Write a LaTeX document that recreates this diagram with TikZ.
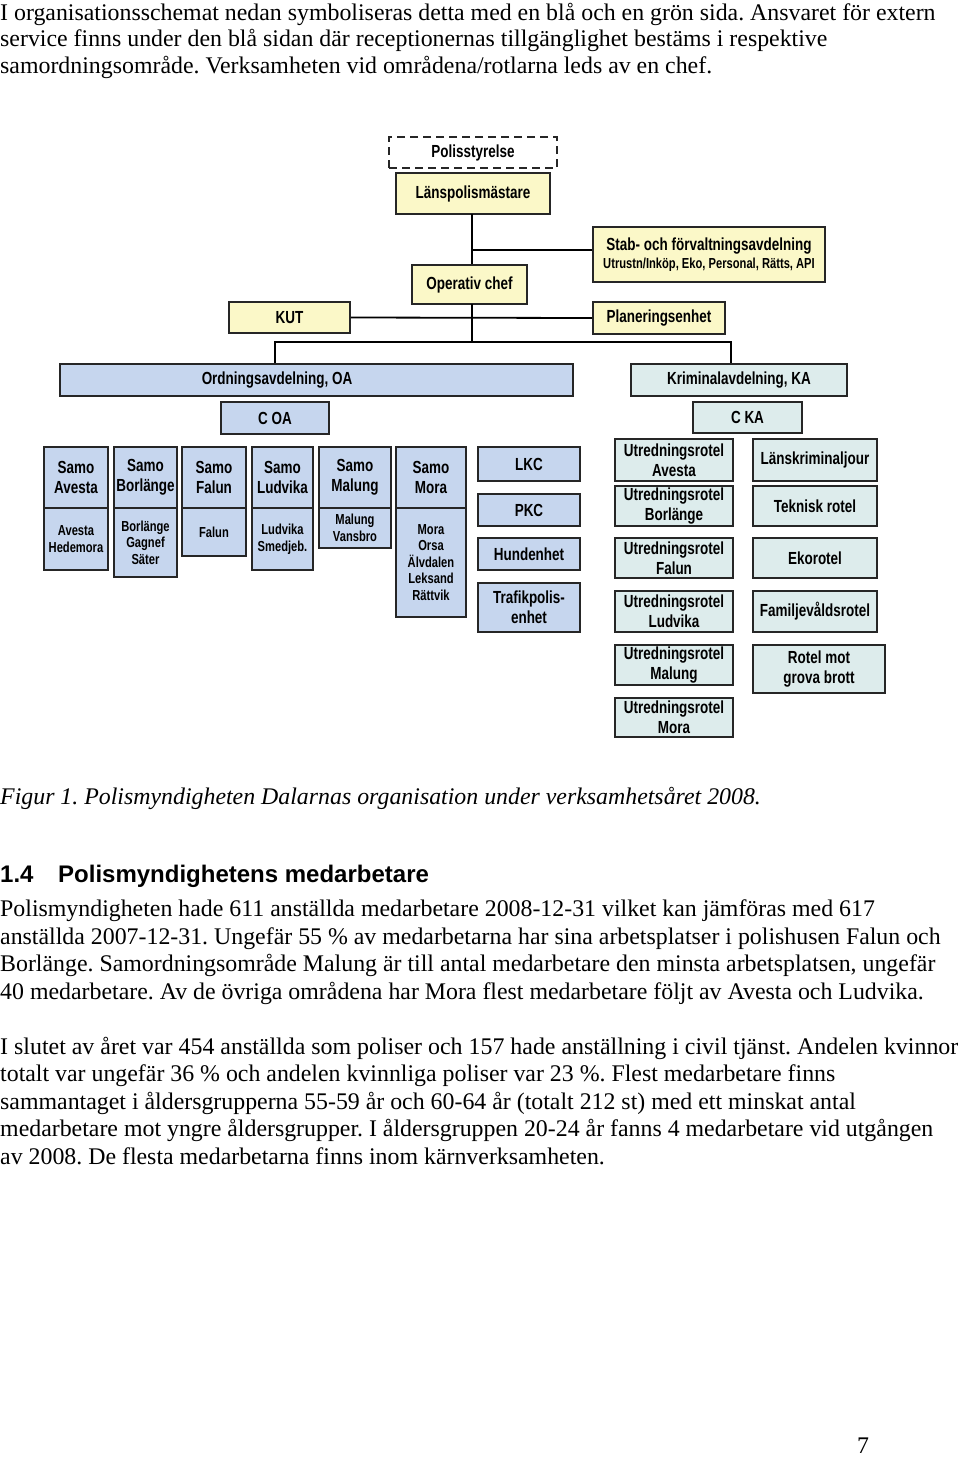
\documentclass[tikz,border=0pt]{standalone}
\usepackage{fontspec}
\setmainfont{Liberation Serif}
\newfontfamily\arialfont{Liberation Sans}
\newfontfamily\narrowfont[FakeStretch=0.77]{Liberation Sans}
\definecolor{yel}{HTML}{FBF8C8}
\definecolor{blu}{HTML}{C6D6EE}
\definecolor{grn}{HTML}{DDECEC}
\newcommand\orgbx[7]{\node[#6, minimum width={(#4-#2)*1pt}, minimum height={(#5-#3)*1pt}] (#1) at ({(#2+#4)/2},{(#3+#5)/2}) {#7};}
\tikzset{
  orgbox/.style={draw=black!85, line width=1.8pt, inner sep=0pt, align=center,
    font=\narrowfont\bfseries\fontsize{17.5}{20}\selectfont},
  ybox/.style={orgbox, fill=yel},
  bbox/.style={orgbox, fill=blu},
  gbox/.style={orgbox, fill=grn},
  smallbox/.style={font=\narrowfont\bfseries\fontsize{14.5}{16.5}\selectfont},
  dashbox/.style={draw=black!85, line width=2.2pt, dash pattern=on 8pt off 5pt, inner sep=0pt,
    font=\narrowfont\bfseries\fontsize{17.5}{20}\selectfont},
  conn/.style={draw=black, line width=1.8pt},
  bodytext/.style={anchor=base west, inner sep=0pt, font=\frenchspacing\fontsize{23.85}{27.5}\selectfont},
  headtext/.style={anchor=base west, inner sep=0pt, font=\arialfont\bfseries\fontsize{24}{27.5}\selectfont},
  lbl/.style={inner sep=0pt, font=\narrowfont\bfseries\fontsize{17.5}{20}\selectfont}
}
\begin{document}
\begin{tikzpicture}[x=1pt,y=-1pt]
\useasboundingbox (0,0) rectangle (960,1457);
\fill[white] (0,0) rectangle (960,1457);

% top paragraph
\node[bodytext] (t1) at (0,20) {I organisationsschemat nedan symboliseras detta med en blå och en grön sida. Ansvaret för extern};
\node[bodytext] (t2) at (0,46) {service finns under den blå sidan där receptionernas tillgänglighet bestäms i respektive};
\node[bodytext] (t3) at (0,73) {samordningsområde. Verksamheten vid områdena/rotlarna leds av en chef.};

% org chart top
\orgbx{pol}{389}{137}{557}{168}{dashbox}{Polisstyrelse}
\orgbx{lpm}{396}{173}{550}{214}{ybox}{Länspolismästare}
\orgbx{stab}{593}{227}{825}{282}{ybox}{Stab- och förvaltningsavdelning\\[-2pt]{\fontsize{14.5}{15}\selectfont Utrustn/Inköp, Eko, Personal, Rätts, API}}
\orgbx{opc}{412}{265}{527}{304}{ybox}{Operativ chef}
\orgbx{kut}{229}{302}{350}{333}{ybox}{KUT}
\orgbx{plan}{593}{302}{725}{334}{ybox}{Planeringsenhet}

\orgbx{oa}{60}{364}{573}{396}{bbox}{}
\node[lbl] (oatext) at (277,380) {Ordningsavdelning, OA};
\orgbx{coa}{221}{402}{329}{434}{bbox}{C OA}
\orgbx{ka}{631}{364}{847}{396}{gbox}{Kriminalavdelning, KA}
\orgbx{cka}{693}{402}{802}{433}{gbox}{C KA}

% connectors
\coordinate (jtop) at (472,214);
\coordinate (jstab) at (472,250);
\coordinate (jop) at (472,304);
\coordinate (joa) at (275,342);
\coordinate (jka) at (731,342);
\draw[conn] (jtop) -- (jtop |- opc.north);
\draw[conn] (jstab) -- (jstab -| stab.west);
\draw[conn] (kut.east) -- (plan.west);
\draw[conn] (jop) -- (jop |- joa);
\draw[conn] (oa.north -| joa) -- (joa) -- (jka) -- (ka.north -| jka);

% Samo boxes
\orgbx{s1t}{44}{447}{108}{508}{bbox}{Samo\\Avesta}
\orgbx{s1b}{44}{508}{108}{570}{bbox,smallbox}{Avesta\\Hedemora}
\orgbx{s2t}{114}{447}{177}{508}{bbox}{Samo\\Borlänge}
\orgbx{s2b}{114}{508}{177}{577}{bbox,smallbox}{Borlänge\\Gagnef\\Säter}
\orgbx{s3t}{182}{447}{246}{508}{bbox}{Samo\\Falun}
\orgbx{s3b}{182}{508}{246}{556}{bbox,smallbox}{Falun}
\orgbx{s4t}{252}{447}{313}{508}{bbox}{Samo\\Ludvika}
\orgbx{s4b}{252}{508}{313}{570}{bbox,smallbox}{Ludvika\\Smedjeb.}
\orgbx{s5t}{319}{447}{391}{508}{bbox}{Samo\\Malung}
\orgbx{s5b}{319}{508}{391}{548}{bbox,smallbox}{Malung\\Vansbro}
\orgbx{s6t}{396}{447}{466}{508}{bbox}{Samo\\Mora}
\orgbx{s6b}{396}{508}{466}{617}{bbox,smallbox}{Mora\\Orsa\\Älvdalen\\Leksand\\Rättvik}

% blue column
\orgbx{lkc}{478}{447}{580}{481}{bbox}{LKC}
\orgbx{pkc}{478}{494}{580}{526}{bbox}{PKC}
\orgbx{hund}{478}{538}{580}{570}{bbox}{Hundenhet}
\orgbx{traf}{478}{583}{580}{632}{bbox}{Trafikpolis-\\enhet}

% utredningsrotlar
\orgbx{u1}{615}{439}{733}{481}{gbox}{Utredningsrotel\\Avesta}
\orgbx{u2}{615}{486}{733}{526}{gbox}{Utredningsrotel\\Borlänge}
\orgbx{u3}{615}{538}{733}{578}{gbox}{Utredningsrotel\\Falun}
\orgbx{u4}{615}{591}{733}{632}{gbox}{Utredningsrotel\\Ludvika}
\orgbx{u5}{615}{645}{733}{685}{gbox}{Utredningsrotel\\Malung}
\orgbx{u6}{615}{698}{733}{737}{gbox}{Utredningsrotel\\Mora}

% right column
\orgbx{r1}{753}{439}{877}{481}{gbox}{Länskriminaljour}
\orgbx{r2}{753}{486}{877}{526}{gbox}{Teknisk rotel}
\orgbx{r3}{753}{538}{877}{578}{gbox}{Ekorotel}
\orgbx{r4}{753}{591}{877}{632}{gbox}{Familjevåldsrotel}
\orgbx{r5}{753}{645}{885}{693}{gbox}{Rotel mot\\grova brott}

% caption and text
\node[bodytext, font=\frenchspacing\itshape\fontsize{23.85}{27.5}\selectfont] (cap) at (0,804) {Figur 1. Polismyndigheten Dalarnas organisation under verksamhetsåret 2008.};
\node[headtext] (hnum) at (0,882) {1.4};
\node[headtext] (htxt) at (58,882) {Polismyndighetens medarbetare};

\node[bodytext] (p1) at (0,916) {Polismyndigheten hade 611 anställda medarbetare 2008-12-31 vilket kan jämföras med 617};
\node[bodytext] (p2) at (0,944) {anställda 2007-12-31. Ungefär 55 \% av medarbetarna har sina arbetsplatser i polishusen Falun och};
\node[bodytext] (p3) at (0,971) {Borlänge. Samordningsområde Malung är till antal medarbetare den minsta arbetsplatsen, ungefär};
\node[bodytext] (p4) at (0,999) {40 medarbetare. Av de övriga områdena har Mora flest medarbetare följt av Avesta och Ludvika.};

\node[bodytext] (q1) at (0,1054) {\resizebox{958pt}{\height}{I slutet av året var 454 anställda som poliser och 157 hade anställning i civil tjänst. Andelen kvinnor}};
\node[bodytext] (q2) at (0,1081) {totalt var ungefär 36 \% och andelen kvinnliga poliser var 23 \%. Flest medarbetare finns};
\node[bodytext] (q3) at (0,1109) {sammantaget i åldersgrupperna 55-59 år och 60-64 år (totalt 212 st) med ett minskat antal};
\node[bodytext] (q4) at (0,1136) {medarbetare mot yngre åldersgrupper. I åldersgruppen 20-24 år fanns 4 medarbetare vid utgången};
\node[bodytext] (q5) at (0,1164) {av 2008. De flesta medarbetarna finns inom kärnverksamheten.};

\node[bodytext] (pg) at (857,1453) {7};
\end{tikzpicture}
\end{document}
